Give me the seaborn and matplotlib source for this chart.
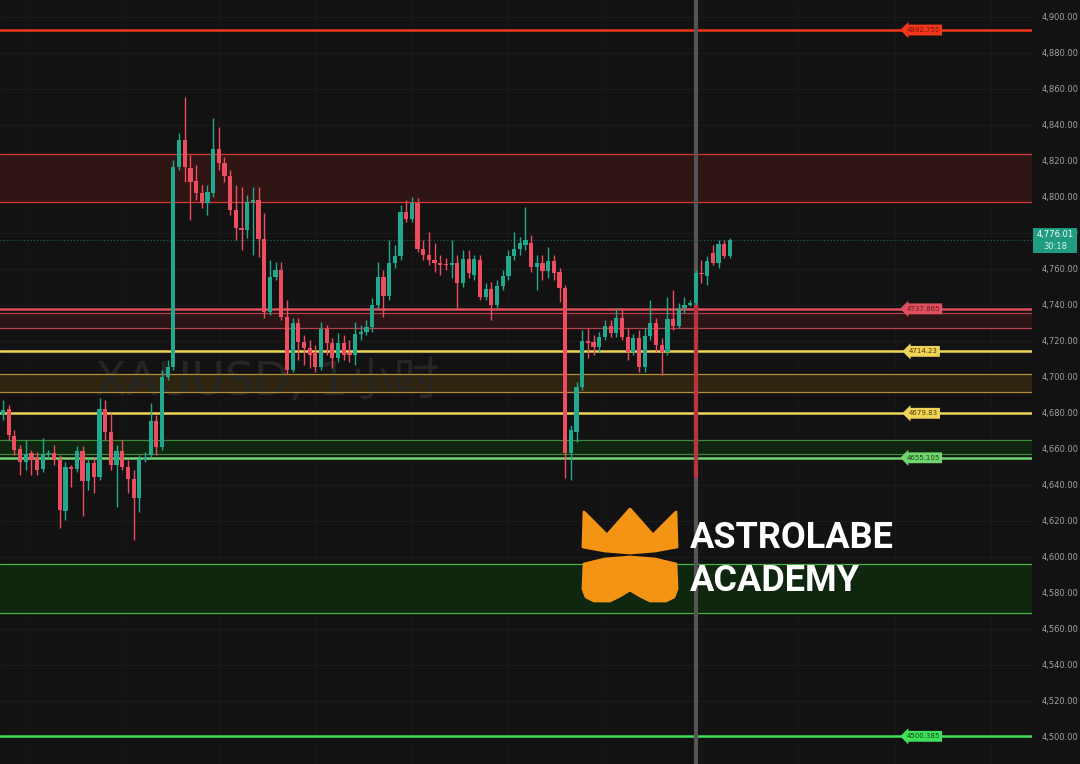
import matplotlib
matplotlib.use('Agg')
from matplotlib import pyplot as plt
from matplotlib.patches import Polygon, Rectangle
from matplotlib.ticker import FuncFormatter, MultipleLocator
import matplotlib.transforms as mtransforms
import numpy as np
import seaborn as sns

# XAUUSD 1h candles
opens = [4678.9, 4682.2, 4667.2, 4660.0, 4652.8, 4657.8, 4655.0, 4648.9, 4657.2, 4657.8,
         4653.9, 4625.6, 4650.0, 4648.9, 4658.9, 4642.2, 4652.2, 4644.4, 4682.2, 4669.4,
         4651.1, 4658.9, 4650.0, 4643.3, 4632.8, 4654.4, 4656.7, 4675.6, 4661.1, 4700.0,
         4705.6, 4816.7, 4831.7, 4816.1, 4808.9, 4802.2, 4796.7, 4802.2, 4826.7, 4818.9,
         4811.7, 4792.8, 4782.8, 4781.7, 4797.2, 4798.3, 4776.7, 4736.1, 4755.6, 4759.4,
         4733.3, 4703.9, 4730.0, 4719.4, 4716.1, 4713.9, 4705.6, 4726.7, 4718.9, 4710.6,
         4718.9, 4713.3, 4712.2, 4723.9, 4725.0, 4727.8, 4740.0, 4755.6, 4745.0, 4763.3,
         4767.2, 4791.7, 4787.8, 4796.7, 4771.1, 4767.8, 4765.0, 4763.3, 4762.8, 4762.2,
         4763.3, 4752.2, 4765.6, 4756.7, 4765.0, 4744.4, 4748.9, 4740.0, 4750.6, 4756.1,
         4767.2, 4771.1, 4773.3, 4774.4, 4761.1, 4763.3, 4758.9, 4764.4, 4758.3, 4749.4,
         4657.8, 4669.4, 4694.4, 4720.0, 4719.4, 4716.7, 4722.2, 4728.3, 4724.4, 4732.8,
         4722.2, 4713.9, 4721.7, 4705.6, 4722.8, 4730.0, 4717.8, 4713.9, 4732.2, 4728.3,
         4738.3, 4740.0, 4741.1, 4757.8, 4756.1, 4768.9, 4763.3, 4773.9, 4767.2]
closes = [4681.7, 4667.8, 4659.4, 4652.8, 4657.2, 4653.9, 4648.3, 4657.2, 4657.8, 4653.9,
          4626.1, 4650.0, 4648.9, 4658.9, 4642.2, 4652.2, 4644.4, 4682.2, 4669.4, 4651.1,
          4658.9, 4650.0, 4643.3, 4632.8, 4654.4, 4655.6, 4675.6, 4661.1, 4700.0, 4705.6,
          4816.7, 4831.7, 4816.7, 4808.3, 4802.2, 4796.7, 4802.8, 4826.7, 4818.9, 4811.7,
          4792.8, 4782.8, 4781.7, 4797.2, 4798.3, 4776.7, 4736.1, 4755.6, 4759.4, 4733.3,
          4703.9, 4730.0, 4719.4, 4716.1, 4712.2, 4705.6, 4726.7, 4718.9, 4710.6, 4718.9,
          4712.2, 4712.2, 4723.9, 4725.0, 4727.8, 4740.0, 4755.6, 4745.0, 4763.3, 4767.2,
          4791.7, 4787.8, 4796.7, 4771.1, 4767.8, 4765.0, 4763.3, 4762.2, 4762.2, 4763.3,
          4752.2, 4765.6, 4757.8, 4765.6, 4744.4, 4748.9, 4740.0, 4750.6, 4756.1, 4767.2,
          4771.1, 4774.4, 4776.1, 4761.1, 4763.3, 4758.9, 4764.4, 4757.8, 4749.4, 4657.8,
          4670.6, 4694.4, 4720.0, 4718.9, 4716.7, 4722.2, 4728.3, 4724.4, 4732.8, 4722.2,
          4713.9, 4721.7, 4705.6, 4722.8, 4730.0, 4717.8, 4713.9, 4732.2, 4728.3, 4738.3,
          4740.0, 4741.1, 4757.8, 4757.2, 4764.4, 4763.3, 4773.9, 4767.2, 4776.01]
highs = [4687.2, 4684.4, 4670.6, 4662.2, 4665.0, 4659.4, 4658.3, 4666.1, 4659.4, 4662.2,
         4656.7, 4652.8, 4651.1, 4661.7, 4661.7, 4655.0, 4655.6, 4688.3, 4687.2, 4679.9,
         4662.2, 4665.0, 4653.9, 4648.3, 4656.7, 4658.3, 4685.6, 4678.9, 4703.9, 4709.4,
         4820.6, 4835.6, 4855.6, 4823.3, 4817.8, 4806.7, 4806.7, 4843.9, 4838.9, 4822.2,
         4815.0, 4806.7, 4805.6, 4801.1, 4805.6, 4805.6, 4791.1, 4765.0, 4763.9, 4763.9,
         4742.8, 4732.8, 4732.8, 4723.3, 4720.6, 4717.8, 4730.6, 4728.9, 4721.7, 4724.4,
         4723.3, 4720.6, 4730.6, 4728.9, 4731.7, 4743.9, 4763.9, 4759.4, 4776.1, 4773.3,
         4795.6, 4798.3, 4800.0, 4799.4, 4776.1, 4780.6, 4774.4, 4767.8, 4766.1, 4776.1,
         4767.8, 4770.6, 4770.6, 4767.8, 4767.8, 4752.2, 4752.8, 4753.9, 4759.4, 4770.6,
         4780.6, 4777.8, 4794.4, 4778.9, 4767.8, 4767.8, 4772.2, 4767.8, 4760.6, 4751.1,
         4673.3, 4697.2, 4726.1, 4727.2, 4723.3, 4725.0, 4731.7, 4731.7, 4738.3, 4737.2,
         4727.2, 4723.9, 4726.1, 4727.2, 4742.8, 4732.8, 4721.7, 4744.4, 4748.3, 4741.1,
         4744.4, 4742.8, 4759.4, 4765.0, 4767.2, 4773.3, 4776.1, 4776.1, 4777.2]
lows = [4676.1, 4665.0, 4656.7, 4645.6, 4648.3, 4645.6, 4645.6, 4647.2, 4655.0, 4651.1,
        4616.1, 4620.6, 4638.9, 4647.2, 4622.8, 4637.2, 4635.6, 4642.8, 4665.0, 4648.3,
        4627.8, 4648.3, 4635.6, 4609.4, 4625.0, 4652.8, 4655.0, 4656.7, 4659.4, 4698.3,
        4703.9, 4815.0, 4808.3, 4787.2, 4798.3, 4793.9, 4790.0, 4800.0, 4815.0, 4808.3,
        4790.0, 4776.1, 4770.6, 4777.2, 4767.8, 4766.7, 4732.8, 4734.4, 4753.9, 4731.7,
        4701.7, 4702.8, 4709.4, 4706.7, 4705.0, 4702.8, 4703.9, 4712.2, 4705.0, 4708.3,
        4709.4, 4708.3, 4706.7, 4720.6, 4723.3, 4725.0, 4738.3, 4733.3, 4742.8, 4760.6,
        4765.0, 4786.1, 4786.1, 4769.4, 4765.0, 4762.2, 4758.3, 4756.7, 4759.4, 4755.0,
        4738.3, 4750.0, 4755.0, 4753.9, 4742.8, 4742.8, 4731.7, 4738.3, 4748.3, 4753.9,
        4765.0, 4767.8, 4770.6, 4758.3, 4748.3, 4753.9, 4755.0, 4753.9, 4741.7, 4643.9,
        4642.8, 4663.9, 4692.8, 4710.6, 4712.2, 4713.9, 4720.6, 4722.2, 4722.2, 4720.6,
        4709.4, 4712.2, 4702.8, 4702.8, 4720.6, 4713.9, 4701.1, 4712.2, 4726.1, 4727.2,
        4735.6, 4739.4, 4740.0, 4752.2, 4751.1, 4762.2, 4760.6, 4766.1, 4766.1]

# horizontal levels drawn on the chart
level_values = [4892.755, 4737.865, 4714.23, 4679.83, 4655.105, 4500.385]
level_labels = ['4892.755', '4737.865', '4714.23', '4679.83', '4655.105', '4500.385']
level_colors = ['#f2361c', '#de4f5d', '#f0d458', '#f0d458', '#72d46e', '#3fe05c']
level_text_colors = ['#7a1208', '#6e1620', '#4d3d00', '#4d3d00', '#124a12', '#0b4a16']

zone_lows = [4797.2, 4727.2, 4691.7, 4657.0, 4568.9]
zone_highs = [4823.9, 4735.6, 4701.7, 4665.0, 4596.0]
zone_fills = ['#2f1513', '#2b1517', '#2e2410', '#10250f', '#0f260f']
zone_edges = ['#d63a34', '#b8404c', '#b48c38', '#3e8c3a', '#46b443']

last_price = 4776.01
countdown = '30:18'
cursor_index = 122
cursor_low = 4643.9
cursor_high = 4740.0
symbol_text = 'XAUUSD, 1小时'

BG = '#121212'
UP = '#22a88e'
DOWN = '#ee4d5f'

sns.set_theme(style='dark', rc={'axes.facecolor': BG, 'figure.facecolor': BG})

fig = plt.figure(figsize=(10.8, 7.64), dpi=100)
ax = fig.add_axes([0, 0, 1032 / 1080, 1])
ax.set_facecolor(BG)

x = np.arange(len(opens))
o = np.array(opens)
c = np.array(closes)
colors = [UP if cc >= oo else DOWN for oo, cc in zip(o, c)]

ax.set_xlim(-0.53, 181.2)
ax.set_ylim(4485.0, 4909.44)

# grid
ax.yaxis.set_major_locator(MultipleLocator(20))
ax.set_xticks(np.arange(4, 182, 17))
ax.grid(True, axis='y', color='#1b1b1b', lw=0.8)
ax.grid(True, axis='x', color='#171717', lw=0.8)
ax.tick_params(axis='x', length=0, labelbottom=False)

# zones
for lo, hi, fc, ec in zip(zone_lows, zone_highs, zone_fills, zone_edges):
    ax.axhspan(lo, hi, color=fc, zorder=1, lw=0)
    ax.axhline(lo, color=ec, lw=0.9, zorder=1.5)
    ax.axhline(hi, color=ec, lw=0.9, zorder=1.5)

# watermark
ax.text(95 / 1032, 1 - 382 / 764, symbol_text, transform=ax.transAxes, fontsize=33,
        color='#262626', ha='left', va='center', zorder=1.2,
        family=['DejaVu Sans', 'Noto Sans CJK SC'])

# level lines
for val, col in zip(level_values, level_colors):
    ax.axhline(val, color=col, lw=1.8, zorder=2)

# last price dotted line
ax.axhline(last_price, color=UP, lw=0.8, ls=(0, (1, 2)), alpha=0.6, zorder=2)

# crosshair
ax.axvline(cursor_index, color='#555555', lw=3, zorder=2.5)
ax.vlines(cursor_index, cursor_low, cursor_high, color='#b8343e', lw=3, zorder=2.6)

# candles
ax.vlines(x, lows, highs, colors=colors, lw=1, zorder=3)
body = np.maximum(np.abs(c - o), 0.7)
ax.bar(x, body, bottom=np.minimum(o, c), width=0.74, color=colors, lw=0, zorder=4)

# level tags
tag_tr = mtransforms.blended_transform_factory(fig.transFigure, ax.transData)
for val, lab, col, tcol in zip(level_values, level_labels, level_colors, level_text_colors):
    ax.text(923 / 1080, val, lab, transform=tag_tr, fontsize=5, color=tcol,
            ha='center', va='center', zorder=6,
            bbox=dict(boxstyle='larrow,pad=0.35', fc=col, ec='none'))

# right price axis
ax.yaxis.tick_right()
ax.yaxis.set_major_formatter(FuncFormatter(lambda v, _: f'{v:,.2f}'))
ax.tick_params(axis='y', length=0, pad=7, labelsize=6, labelcolor='#a0a0a0')
for s in ax.spines.values():
    s.set_visible(False)

# last price badge
box = Rectangle((1033 / 1080, last_price - 7.4), 44 / 1080, 14.4, transform=tag_tr,
                fc='#1f9c82', ec='none', zorder=10, clip_on=False)
fig.add_artist(box)
fig.text(1055 / 1080, last_price + 3.0, f'{last_price:,.2f}', transform=tag_tr, fontsize=6,
         color='white', ha='center', va='center', zorder=11)
fig.text(1055 / 1080, last_price - 3.6, countdown, transform=tag_tr, fontsize=6,
         color='#d8f2ec', ha='center', va='center', zorder=11)


# logo overlay (figure pixel coordinates)
def px(pts):
    return [(a / 1080, 1 - b / 764) for a, b in pts]


orange = '#f39414'
crown = [(584, 512), (607, 535), (630, 509), (653, 535), (676, 512), (677, 547),
         (655, 551), (630, 553), (605, 551), (583, 547)]
mask = [(584, 564), (605, 559), (630, 557), (655, 559), (676, 564), (677, 589), (674, 597),
        (666, 601), (650, 601), (640, 596), (630, 590), (620, 596), (610, 601), (594, 601),
        (586, 597), (583, 589)]
for shape in (crown, mask):
    fig.add_artist(Polygon(px(shape), closed=True, transform=fig.transFigure, fc=orange,
                           ec=orange, lw=2, joinstyle='round', zorder=8))
fig.text(690 / 1080, 1 - 538 / 764, 'ASTROLABE', fontsize=26, fontweight='bold',
         family='Roboto', color='white', ha='left', va='center', zorder=9)
fig.text(690 / 1080, 1 - 581 / 764, 'ACADEMY', fontsize=26, fontweight='bold',
         family='Roboto', color='white', ha='left', va='center', zorder=9)

fig.savefig('out.png', dpi=100, facecolor=BG)
